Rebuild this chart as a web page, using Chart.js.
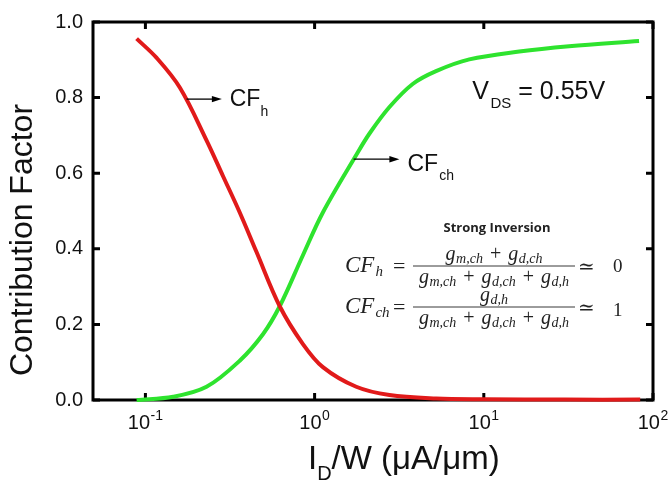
<!DOCTYPE html>
<html><head><meta charset="utf-8">
<script src="https://cdn.jsdelivr.net/npm/chart.js@4/dist/chart.umd.min.js"></script>
<style>html,body{margin:0;padding:0;background:#fff}#wrap{width:669px;height:484px;position:relative}</style>
</head><body><div id="wrap"><canvas id="c" width="669" height="484"></canvas></div>
<script>
// ---- data ----
const cfhX  = [0.0887, 0.1165, 0.160, 0.2297, 0.2877, 0.361, 0.453, 0.622, 0.853, 1.119, 1.762, 2.77, 5.22, 10, 30, 84];
const cfhY  = [0.956, 0.905, 0.826, 0.687, 0.592, 0.496, 0.392, 0.248, 0.148, 0.087, 0.035, 0.013, 0.004, 0.002, 0.001, 0.001];
const cfchX = [0.0887, 0.146, 0.2297, 0.361, 0.495, 0.622, 0.853, 1.119, 1.762, 2.111, 2.77, 3.80, 5.22, 8.21, 16.2, 31.9, 82.7];
const cfchY = [0.0, 0.0086, 0.035, 0.104, 0.174, 0.248, 0.383, 0.496, 0.648, 0.705, 0.775, 0.836, 0.870, 0.901, 0.922, 0.936, 0.950];
const xTickValues = [0.1, 1, 10, 100];
const xTickBase = ['10', '10', '10', '10'];
const xTickExp = ['-1', '0', '1', '2'];
const yTickValues = [0, 0.2, 0.4, 0.6, 0.8, 1.0];
const yTickLabels = ['0.0', '0.2', '0.4', '0.6', '0.8', '1.0'];

const SANS = '"Liberation Sans", Arial, sans-serif';
const SERIF = '"Liberation Serif", "DejaVu Serif", serif';

function toPoints(xs, ys) { return xs.map((x, i) => ({ x: x, y: ys[i] })); }

function runsWidth(ctx, runs) {
  let w = 0;
  for (const r of runs) { ctx.font = r.f; w += (r.pre || 0) + ctx.measureText(r.t).width + (r.post || 0); }
  return w;
}
function drawRuns(ctx, x, y, runs, align) {
  const w = runsWidth(ctx, runs);
  let cx = align === 'center' ? x - w / 2 : (align === 'right' ? x - w : x);
  ctx.textAlign = 'left'; ctx.textBaseline = 'alphabetic';
  for (const r of runs) {
    ctx.font = r.f;
    cx += (r.pre || 0);
    ctx.fillText(r.t, cx, y + (r.dy || 0));
    cx += ctx.measureText(r.t).width + (r.post || 0);
  }
}
function arrow(ctx, x0, x1, y) {
  ctx.beginPath(); ctx.lineWidth = 1.3; ctx.strokeStyle = '#000';
  ctx.moveTo(x0, y); ctx.lineTo(x1 - 8, y); ctx.stroke();
  ctx.beginPath(); ctx.fillStyle = '#000';
  ctx.moveTo(x1, y); ctx.lineTo(x1 - 10, y - 3.2); ctx.lineTo(x1 - 10, y + 3.2); ctx.closePath(); ctx.fill();
}

const MI = 'italic 20px ' + SERIF, MS = 'italic 14px ' + SERIF, RM = '20px ' + SERIF;
const plus = { t: '+', f: RM, pre: 7, post: 7 };
const gm = [{ t: 'g', f: MI, post: 0.5 }, { t: 'm,ch', f: MS, dy: 3 }];
const gdch = [{ t: 'g', f: MI, post: 0.5 }, { t: 'd,ch', f: MS, dy: 3 }];
const gdh = [{ t: 'g', f: MI, post: 0.5 }, { t: 'd,h', f: MS, dy: 3 }];

const deco = {
  id: 'deco',
  beforeDatasetsDraw(chart) {
    const ctx = chart.ctx, a = chart.chartArea, xs = chart.scales.x, ys = chart.scales.y;
    ctx.save();
    ctx.strokeStyle = '#000'; ctx.lineWidth = 3;
    ctx.strokeRect(a.left, a.top, a.right - a.left, a.bottom - a.top);
    ctx.beginPath();
    for (const v of xTickValues) {
      const p = xs.getPixelForValue(v);
      ctx.moveTo(p, a.bottom); ctx.lineTo(p, a.bottom - 7);
      ctx.moveTo(p, a.top); ctx.lineTo(p, a.top + 7);
    }
    for (const v of yTickValues) {
      const p = ys.getPixelForValue(v);
      ctx.moveTo(a.left, p); ctx.lineTo(a.left + 7, p);
      ctx.moveTo(a.right, p); ctx.lineTo(a.right - 7, p);
    }
    ctx.stroke();
    ctx.restore();
  },
  afterDraw(chart) {
    const ctx = chart.ctx, a = chart.chartArea, xs = chart.scales.x, ys = chart.scales.y;
    ctx.save();
    ctx.fillStyle = '#111';
    // x tick labels with superscripts
    xTickValues.forEach((v, i) => {
      const p = xs.getPixelForValue(v);
      drawRuns(ctx, p, a.bottom + 29, [
        { t: xTickBase[i], f: '20px ' + SANS },
        { t: xTickExp[i], f: '14px ' + SANS, dy: -9, pre: 0.5 }
      ], 'center');
    });
    // axis titles
    drawRuns(ctx, 308, 469, [
      { t: 'I', f: '33px ' + SANS },
      { t: 'D', f: '20px ' + SANS, dy: 11 },
      { t: '/W (\u03BCA/\u03BCm)', f: '33px ' + SANS }
    ], 'left');
    ctx.save();
    ctx.translate(31.5, 240); ctx.rotate(-Math.PI / 2);
    ctx.font = '32px ' + SANS; ctx.textAlign = 'center'; ctx.textBaseline = 'alphabetic';
    ctx.fillText('Contribution Factor', 0, 0);
    ctx.restore();

    // arrows and curve labels
    const yH = ys.getPixelForValue(0.796);
    arrow(ctx, xs.getPixelForValue(0.175), xs.getPixelForValue(0.283), yH);
    ctx.fillStyle = '#111';
    drawRuns(ctx, xs.getPixelForValue(0.315), yH + 7, [
      { t: 'CF', f: '23px ' + SANS },
      { t: 'h', f: '14px ' + SANS, dy: 9.5 }
    ], 'left');
    const yC = ys.getPixelForValue(0.637);
    arrow(ctx, xs.getPixelForValue(1.70), xs.getPixelForValue(3.17), yC);
    ctx.fillStyle = '#111';
    drawRuns(ctx, xs.getPixelForValue(3.54), yC + 12, [
      { t: 'CF', f: '23px ' + SANS },
      { t: 'ch', f: '14px ' + SANS, dy: 8.5, pre: 1 }
    ], 'left');
    // V_DS
    drawRuns(ctx, xs.getPixelForValue(8.55), ys.getPixelForValue(0.796), [
      { t: 'V', f: '25px ' + SANS },
      { t: 'DS', f: '15px ' + SANS, dy: 8.5, pre: 1.5 },
      { t: ' = 0.55V', f: '25px ' + SANS }
    ], 'left');

    // formula box
    ctx.fillStyle = '#222';
    ctx.font = 'bold 13px "Open Sans", sans-serif'; ctx.textAlign = 'center';
    ctx.fillText('Strong Inversion', 497, 231.5);
    const denom = [...gm, plus, ...gdch, plus, ...gdh];
    const eq = (bar, lhs, num, rhsVal, rhsDy) => {
      drawRuns(ctx, 345, bar + 6, lhs, 'left');
      drawRuns(ctx, 393, bar + 6.5, [{ t: '=', f: '22px ' + SERIF }], 'left');
      ctx.beginPath(); ctx.strokeStyle = '#222'; ctx.lineWidth = 0.9;
      ctx.moveTo(413, bar); ctx.lineTo(575, bar); ctx.stroke();
      drawRuns(ctx, 494, bar - 6, num, 'center');
      drawRuns(ctx, 494, bar + 17, denom, 'center');
      drawRuns(ctx, 578, bar + 6.5, [{ t: '\u2243', f: '20px "DejaVu Serif", serif' }], 'left');
      drawRuns(ctx, 613, bar + rhsDy, [{ t: rhsVal, f: '19px ' + SERIF }], 'left');
    };
    eq(266, [{ t: 'CF', f: 'italic 23px ' + SERIF }, { t: 'h', f: 'italic 15px ' + SERIF, dy: 4, pre: 1 }],
       [...gm, plus, ...gdch], '0', 6);
    eq(307, [{ t: 'CF', f: 'italic 23px ' + SERIF }, { t: 'ch', f: 'italic 15px ' + SERIF, dy: 4, pre: 1 }],
       [...gdh], '1', 9);
    ctx.restore();
  }
};

new Chart(document.getElementById('c'), {
  type: 'line',
  data: {
    datasets: [
      { label: 'CFh', data: toPoints(cfhX, cfhY), borderColor: '#e11a1a', borderWidth: 4, pointRadius: 0, tension: 0.35, fill: false, clip: false },
      { label: 'CFch', data: toPoints(cfchX, cfchY), borderColor: '#2ee32e', borderWidth: 4, pointRadius: 0, tension: 0.35, fill: false, clip: false }
    ]
  },
  options: {
    responsive: false, animation: false, devicePixelRatio: 1,
    layout: { padding: { top: 17, right: 16, left: 0, bottom: 0 } },
    plugins: { legend: { display: false }, title: { display: false }, tooltip: { enabled: false } },
    scales: {
      x: {
        type: 'logarithmic', min: 0.049, max: 100,
        afterBuildTicks: s => { s.ticks = xTickValues.map(v => ({ value: v })); },
        ticks: { display: false },
        grid: { display: false, drawTicks: false }, border: { display: false },
        afterFit: s => { s.height = 84; }
      },
      y: {
        min: 0, max: 1,
        afterBuildTicks: s => { s.ticks = yTickValues.map(v => ({ value: v })); },
        ticks: { callback: (v, i) => yTickLabels[i], font: { family: SANS, size: 20 }, color: '#111', padding: 10 },
        grid: { display: false, drawTicks: false }, border: { display: false },
        afterFit: s => { s.width = 93; }
      }
    }
  },
  plugins: [deco]
});
</script>
</body></html>
